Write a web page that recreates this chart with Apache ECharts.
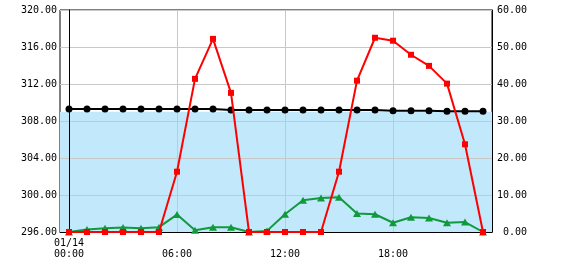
<!DOCTYPE html>
<html><head><meta charset="utf-8">
<script src="https://cdn.jsdelivr.net/npm/echarts@6/dist/echarts.min.js"></script>
<style>html,body{margin:0;padding:0;background:#fff}#c{width:570px;height:270px}</style>
</head><body><div id="c"></div>
<script>
// hours of day 01/14
const hours = [0,1,2,3,4,5,6,7,8,9,10,11,12,13,14,15,16,17,18,19,20,21,22,23];
const tickHours = [0, 6, 12, 18];
const tickLabels = ['01/14\n00:00', '06:00', '12:00', '18:00'];
const leftTicks = [296, 300, 304, 308, 312, 316, 320];
const rightTicks = [0, 10, 20, 30, 40, 50, 60];
// left-axis series (black)
const blackValues = [309.3,309.3,309.3,309.3,309.3,309.3,309.3,309.3,309.3,309.2,309.2,309.2,
                     309.2,309.2,309.2,309.2,309.2,309.2,309.1,309.1,309.1,309.05,309.05,309.05];
// right-axis series (red)
const redValues = [0,0,0,0,0,0,16.3,41.4,52.2,37.6,0,0,0,0,0,16.3,40.9,52.5,51.7,47.9,44.9,40.1,23.7,0];
// right-axis series (green)
const greenValues = [0,0.7,1.0,1.2,1.0,1.3,4.7,0.5,1.3,1.3,0,0.3,4.8,8.6,9.2,9.4,5.0,4.8,2.5,4.0,3.8,2.5,2.7,0];
// shaded band on the left axis
const bandRange = [296, 309];

const pairs = vals => hours.map((h, i) => [h, vals[i]]);
const FONT = 'DejaVu Sans Mono';

const chart = echarts.init(document.getElementById('c'), null, {renderer: 'canvas'});
chart.setOption({
  animation: false,
  backgroundColor: '#fff',
  grid: {left: 60, right: 78, top: 10, bottom: 38, show: true, borderColor: '#000', borderWidth: 1, backgroundColor: '#fff'},
  xAxis: {
    type: 'value', min: hours[0] - 0.5, max: hours[hours.length - 1] + 0.5, z: 2,
    axisLine: {show: true, onZero: false, lineStyle: {color: '#000', width: 1}},
    axisTick: {show: false, customValues: tickHours},
    axisLabel: {
      customValues: tickHours, color: '#000', fontFamily: FONT, fontSize: 10, lineHeight: 11, margin: 6,
      formatter: v => { const s = tickLabels[tickHours.indexOf(v)] || ''; return s.indexOf('\n') >= 0 ? s : '\n' + s; }
    },
    splitLine: {show: true, lineStyle: {color: '#c8c8c8', width: 1}}
  },
  yAxis: [{
    type: 'value', position: 'left', min: leftTicks[0], max: leftTicks[leftTicks.length - 1],
    interval: leftTicks[1] - leftTicks[0], z: 2,
    axisLine: {show: true, lineStyle: {color: '#000', width: 1}},
    axisTick: {show: false},
    axisLabel: {color: '#000', fontFamily: FONT, fontSize: 10, margin: 3, formatter: v => v.toFixed(2)},
    splitLine: {show: true, lineStyle: {color: '#c8c8c8', width: 1}}
  }, {
    type: 'value', position: 'right', min: rightTicks[0], max: rightTicks[rightTicks.length - 1],
    interval: rightTicks[1] - rightTicks[0], z: 2,
    axisLine: {show: true, lineStyle: {color: '#000', width: 1}},
    axisTick: {show: false},
    axisLabel: {color: '#000', fontFamily: FONT, fontSize: 10, margin: 35, align: 'right', formatter: v => v.toFixed(2)},
    splitLine: {show: false}
  }],
  series: [{
    type: 'line', yAxisIndex: 0, z: 3, data: pairs(blackValues),
    symbol: 'circle', symbolSize: 7, itemStyle: {color: '#000'}, lineStyle: {color: '#000', width: 2},
    markArea: {silent: true, z: 1, itemStyle: {color: '#c2e8fb', opacity: 1},
      data: [[{yAxis: bandRange[0]}, {yAxis: bandRange[1]}]]}
  }, {
    type: 'line', yAxisIndex: 1, z: 4, data: pairs(greenValues),
    symbol: 'triangle', symbolSize: [8, 7], itemStyle: {color: '#109a3c'}, lineStyle: {color: '#109a3c', width: 2}
  }, {
    type: 'line', yAxisIndex: 1, z: 5, data: pairs(redValues),
    symbol: 'rect', symbolSize: 6, itemStyle: {color: '#ff0000'}, lineStyle: {color: '#ff0000', width: 2}
  }]
});
</script></body></html>
